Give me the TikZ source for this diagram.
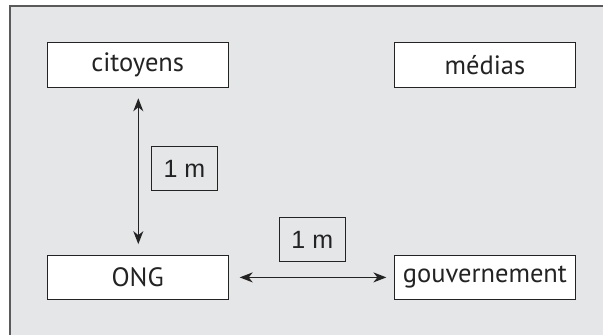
\documentclass[tikz,border=0pt]{standalone}
\usepackage{fontspec}
\setmainfont{PT Sans}
\newfontfamily\labelfont{Liberation Sans}
\usetikzlibrary{arrows.meta}
\definecolor{panel}{HTML}{E5E6E8}
\definecolor{framegray}{HTML}{5A5A5A}
\definecolor{ink}{HTML}{232323}
\tikzset{
  actor/.style={draw=ink, line width=1pt, fill=white, text=ink,
    minimum width=181pt, minimum height=44.5pt, inner sep=0pt,
    font=\fontsize{26.5}{30}\selectfont},
  dist/.style={draw=ink, line width=1pt, text=ink,
    minimum width=65.5pt, minimum height=44pt, inner sep=0pt,
    font=\labelfont\fontsize{25}{29}\selectfont},
  link/.style={draw=ink, line width=1.3pt,
    {Stealth[length=13pt,width=10pt,inset=4pt]}-{Stealth[length=13pt,width=10pt,inset=4pt]}}
}
\begin{document}
\begin{tikzpicture}[x=1pt,y=-1pt]
  \useasboundingbox (0,0) rectangle (603,335);
  \fill[white] (0,0) rectangle (603,335);
  % grey panel with its left and top border
  \fill[panel] (10,6) rectangle (603,335);
  \draw[framegray, line width=2pt] (10,335) -- (10,6) -- (603,6);

  % actors
  \node[actor] (cit) at (137.7,65) {citoyens};
  \node[actor] (med) at (484.9,65) {médias};
  \node[actor] (ong) at (137.7,277.4) {ONG};
  \node[actor] (gov) at (484.9,277.4) {gouvernement};

  % distance labels
  \node[dist] (d1) at (184.5,168.8) {1 m};
  \node[dist] (d2) at (312.3,239.5) {1 m};

  % links
  \draw[link, shorten <=10.5pt, shorten >=10.5pt] ([xshift=0.6pt]cit.south) -- ([xshift=0.6pt]ong.north);
  \draw[link, shorten <=11pt, shorten >=7.5pt] (ong.east) -- (gov.west);
\end{tikzpicture}
\end{document}
